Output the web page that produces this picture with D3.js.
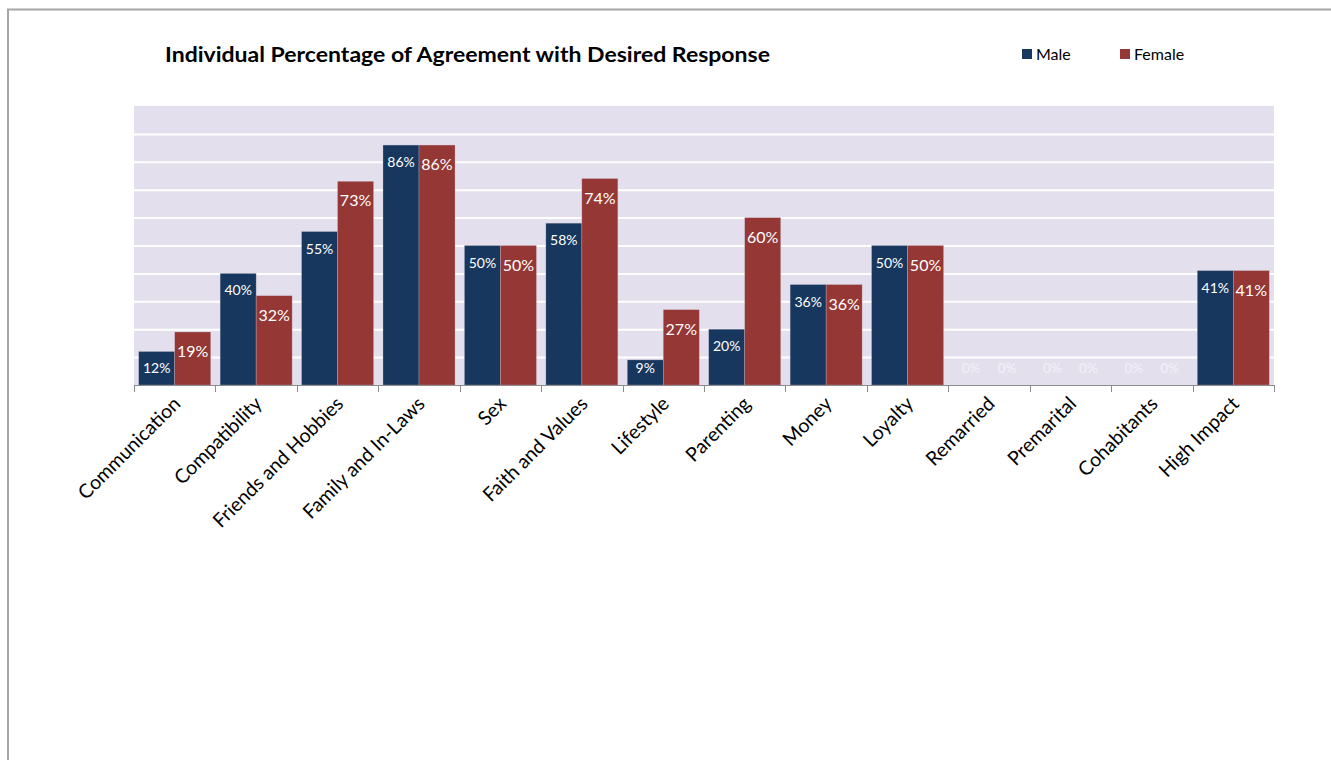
<!DOCTYPE html>
<html>
<head>
<meta charset="utf-8">
<script src="https://cdn.jsdelivr.net/npm/d3@7"></script>
<style>
  body { margin: 0; background: white; }
  text { font-family: Lato, "Open Sans", sans-serif; }
</style>
</head>
<body>
<div id="chart"></div>
<script>
var categories = ["Communication", "Compatibility", "Friends and Hobbies", "Family and In-Laws", "Sex",
                  "Faith and Values", "Lifestyle", "Parenting", "Money", "Loyalty", "Remarried",
                  "Premarital", "Cohabitants", "High Impact"];
var male = [12, 40, 55, 86, 50, 58, 9, 20, 36, 50, 0, 0, 0, 41];
var female = [19, 32, 73, 86, 50, 74, 27, 60, 36, 50, 0, 0, 0, 41];
var seriesNames = ["Male", "Female"];
var yTicks = [0, 10, 20, 30, 40, 50, 60, 70, 80, 90, 100];

makeChart();

function makeChart(){
    var w = 1331;
    var h = 760;
    var colors = ["#17375e", "#953735"];

    var svg = d3.select("#chart")
                .append("svg")
                .attr("width", w)
                .attr("height", h);

    // outer frame
    svg.append("path")
        .attr("d", "M8," + h + "V9.5H" + w)
        .style("fill", "none")
        .style("stroke", "#a6a6a6")
        .style("stroke-width", 2);

    var xScale = d3.scaleBand()
                .domain(categories)
                .range([134, 1274])
                .paddingInner(0.116)
                .paddingOuter(0.058);

    var xSub = d3.scaleBand()
                .domain(seriesNames)
                .range([0, xScale.bandwidth()]);

    var yScale = d3.scaleLinear()
                .domain([0, 100])
                .range([385, 106]);

    svg.append("rect")
        .attr("x", 134)
        .attr("y", yScale(100))
        .attr("width", 1140)
        .attr("height", yScale(0) - yScale(100))
        .style("fill", "#e4dfec");

    var yAxis = d3.axisLeft(yScale).tickValues(yTicks.slice(1, -1)).tickSize(-1140).tickFormat("");

    svg.append("g")
        .attr("class", "axis y--axis")
        .attr("transform", "translate(134,0)")
        .call(yAxis)
        .call(function(g){ g.select(".domain").remove(); })
        .selectAll("line")
        .style("stroke", "white")
        .style("stroke-width", 2);

    var rows = categories.map(function(c, i){
        return {cat: c, values: [male[i], female[i]]};
    });

    var groups = svg.selectAll("g.cat")
        .data(rows)
        .enter()
        .append("g")
        .attr("class", "cat")
        .attr("transform", function(d){ return "translate(" + xScale(d.cat) + ",0)"; });

    groups.selectAll("rect")
        .data(function(d){ return d.values.map(function(v, j){ return {name: seriesNames[j], v: v, j: j}; }); })
        .enter()
        .append("rect")
        .attr("x", function(d){ return xSub(d.name); })
        .attr("y", function(d){ return yScale(d.v); })
        .attr("width", xSub.bandwidth())
        .attr("height", function(d){ return yScale(0) - yScale(d.v); })
        .style("fill", function(d){ return colors[d.j]; })
        .style("stroke", function(d){ return d.v > 0 ? "#c9c2d4" : "none"; })
        .style("stroke-width", 0.6)
        .style("stroke-opacity", 0.5);

    groups.selectAll("text")
        .data(function(d){ return d.values.map(function(v, j){ return {name: seriesNames[j], v: v, j: j}; }); })
        .enter()
        .append("text")
        .attr("x", function(d){ return xSub(d.name) + xSub.bandwidth() / 2; })
        .attr("y", function(d){
            var off = d.j == 0 ? 22 : 25;
            return Math.min(yScale(d.v) + off, 373);
        })
        .attr("text-anchor", "middle")
        .style("font-size", function(d){ return d.v == 0 ? "13.5px" : (d.j == 0 ? "14px" : "16px"); })
        .style("fill", function(d){ return d.v == 0 ? "#f3f0f7" : "white"; })
        .text(function(d){ return d.v + "%"; });

    var xAxis = d3.axisBottom(xScale).tickSize(0).tickFormat("");

    svg.append("g")
        .attr("class", "axis x--axis")
        .attr("transform", "translate(0,385)")
        .call(xAxis)
        .select(".domain")
        .attr("d", "M134.5,0.5H1274.5")
        .style("stroke", "#8c8c8c");

    // category boundary ticks
    var bounds = categories.map(function(c){ return xScale(c) - xScale.step() * xScale.paddingInner() / 2; });
    bounds.push(1274);
    svg.append("g")
        .selectAll("line")
        .data(bounds)
        .enter()
        .append("line")
        .attr("x1", function(d){ return Math.round(d) + 0.5; })
        .attr("x2", function(d){ return Math.round(d) + 0.5; })
        .attr("y1", 385)
        .attr("y2", 392)
        .style("stroke", "#8c8c8c");

    svg.append("g")
        .selectAll("text")
        .data(categories)
        .enter()
        .append("text")
        .attr("transform", function(d){
            return "translate(" + (xScale(d) + xScale.bandwidth() / 2 + 7) + ",405) rotate(-45)";
        })
        .attr("text-anchor", "end")
        .style("font-size", "19.5px")
        .style("fill", "black")
        .text(function(d){ return d; });

    svg.append("text")
        .attr("x", 165)
        .attr("y", 62)
        .attr("textLength", 605)
        .attr("lengthAdjust", "spacingAndGlyphs")
        .style("font-size", "20px")
        .style("font-weight", "bold")
        .text("Individual Percentage of Agreement with Desired Response");

    var legend = svg.selectAll("g.legend")
        .data(seriesNames)
        .enter()
        .append("g")
        .attr("class", "legend")
        .attr("transform", function(d, i){ return "translate(" + (1022 + i * 98) + ",49)"; });

    legend.append("rect")
        .attr("width", 10)
        .attr("height", 10)
        .style("fill", function(d, i){ return colors[i]; });

    legend.append("text")
        .attr("x", 14)
        .attr("y", 10.5)
        .style("font-size", "16px")
        .text(function(d){ return d; });
}
</script>
</body>
</html>
